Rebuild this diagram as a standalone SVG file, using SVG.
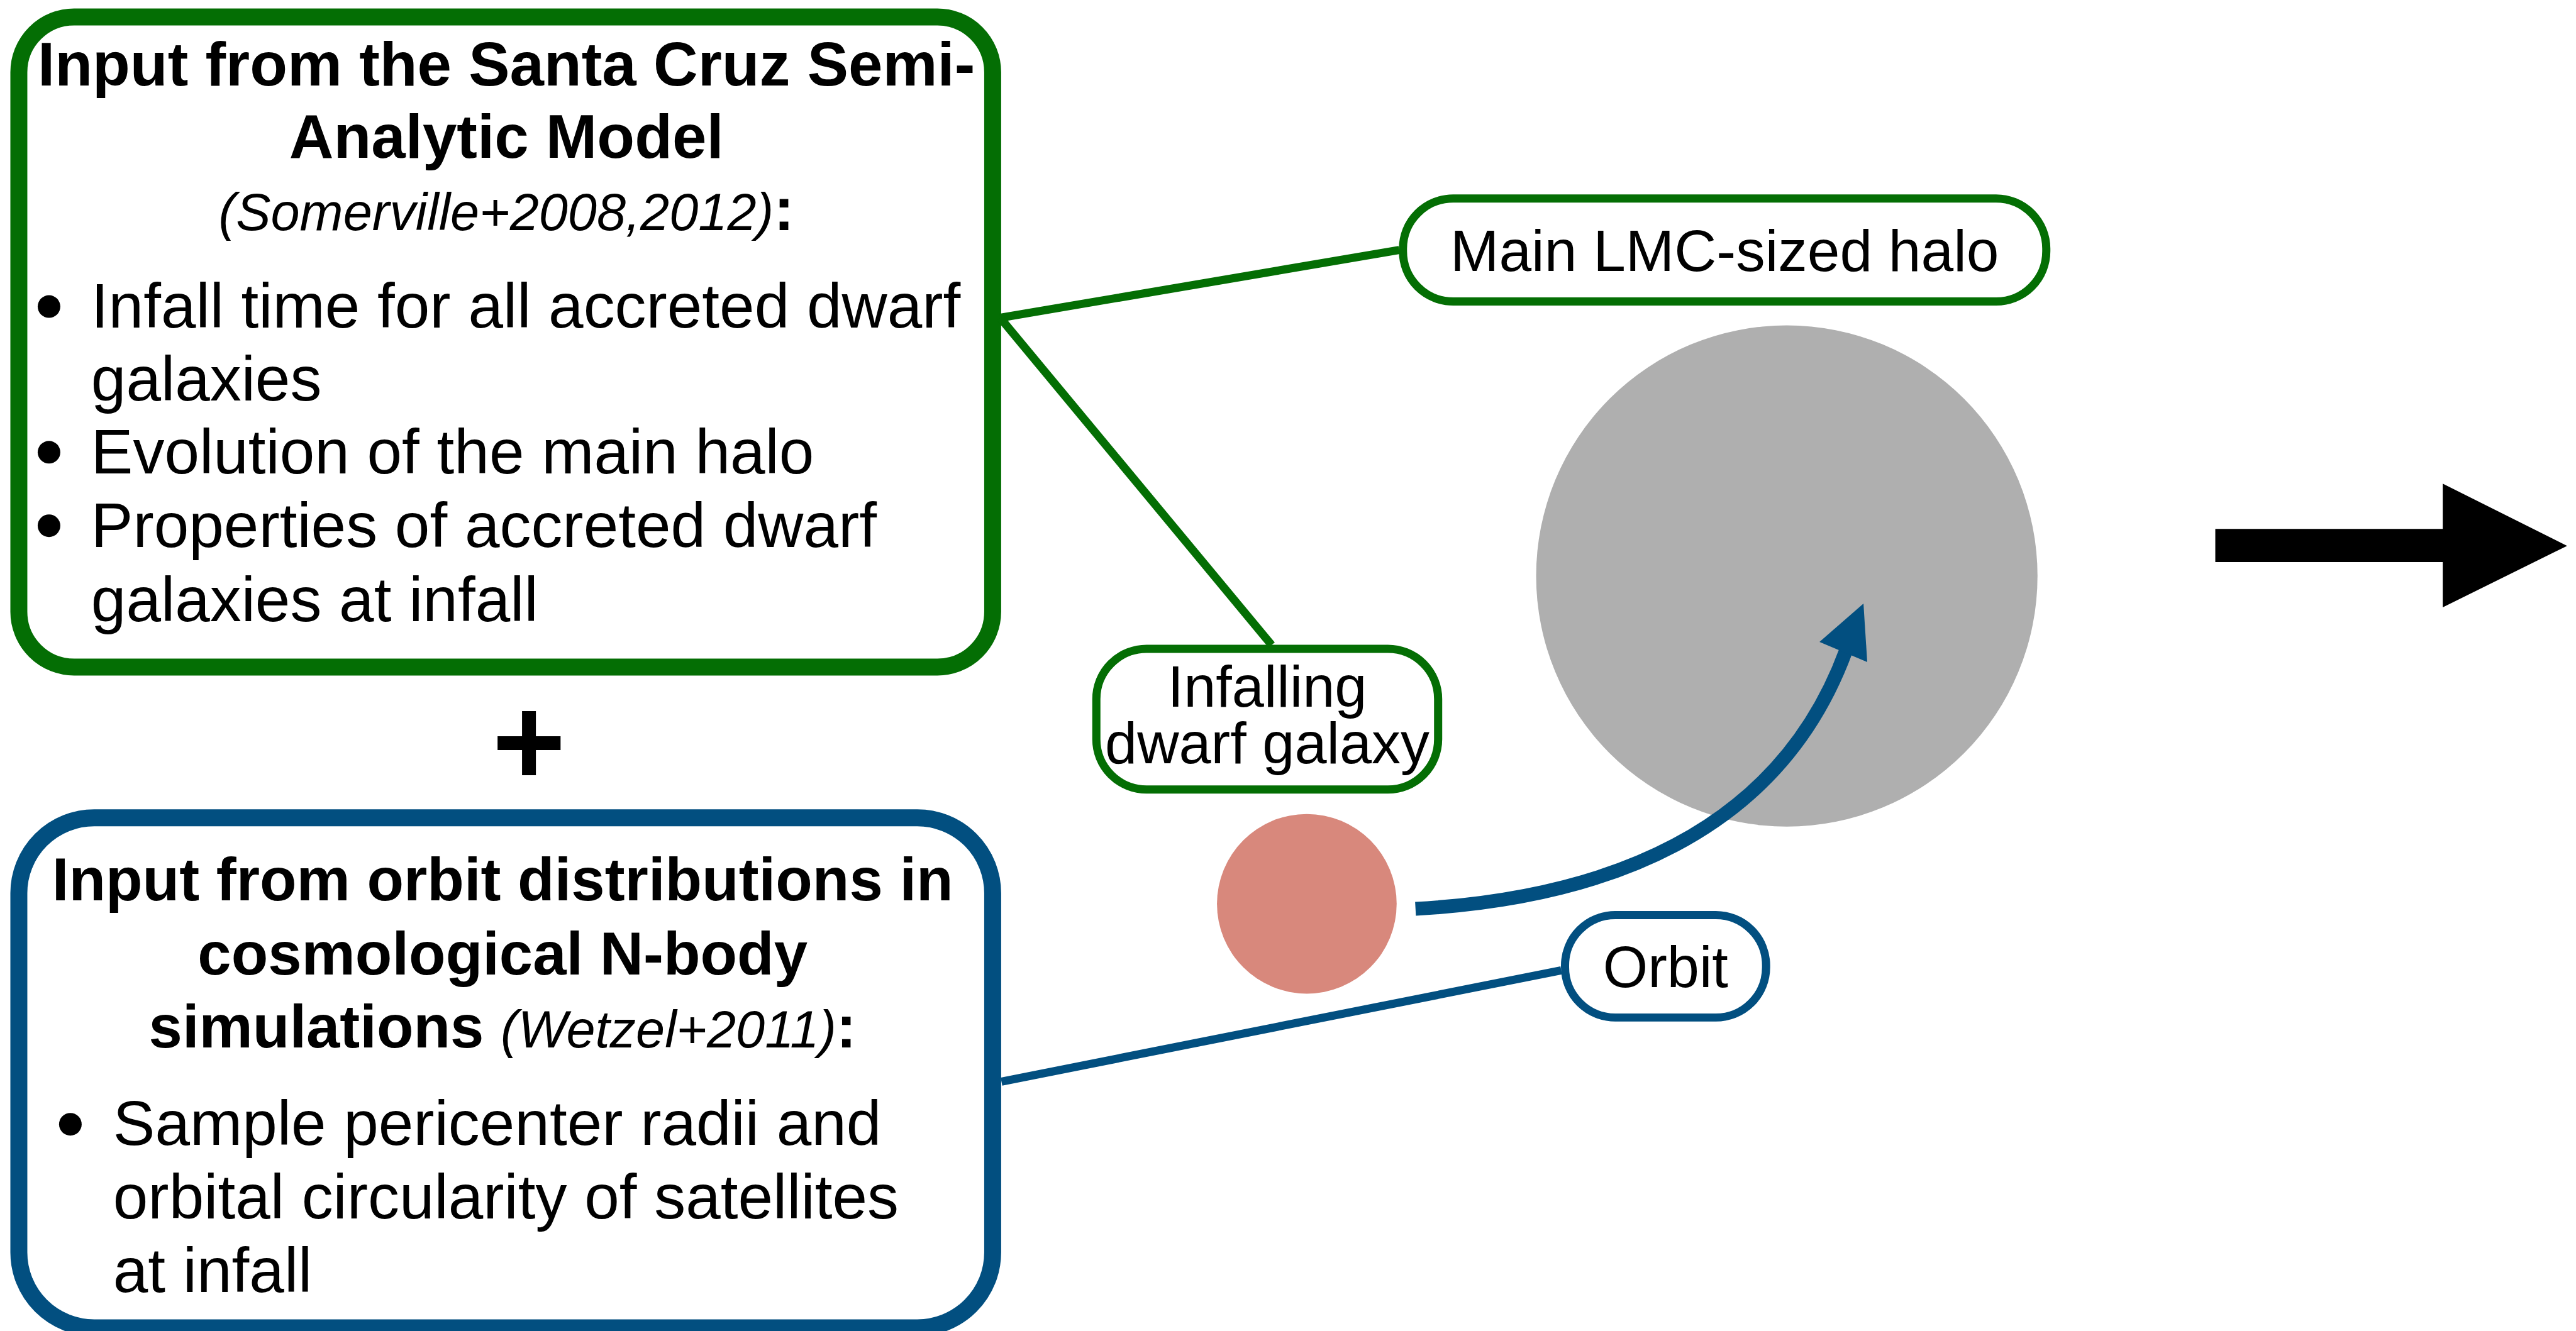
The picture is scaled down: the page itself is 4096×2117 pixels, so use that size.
<svg xmlns="http://www.w3.org/2000/svg" width="4096" height="2117" viewBox="0 0 4096 2117">
<style>
.g{fill:#fff;stroke:#046E04;}
.b{fill:#fff;stroke:#024F80;}
.t{font-family:"Liberation Sans",Arial,Helvetica,sans-serif;fill:#000;}
.bold{font-weight:bold;}
.it{font-style:italic;font-weight:normal;}
.lg{stroke:#046E04;stroke-width:13;fill:none;}
.lb{stroke:#024F80;stroke-width:13;fill:none;}
</style>
<rect width="4096" height="2117" fill="#fff"/>
<g transform="scale(0.999)">
<g id="santa-cruz">
<rect class="g" x="30" y="27" width="1550" height="1035" rx="88" ry="88" stroke-width="27"/>
<text class="t bold" x="806" y="136" font-size="98" text-anchor="middle">Input from the Santa Cruz Semi-</text>
<text class="t bold" x="806" y="251" font-size="98" text-anchor="middle">Analytic Model</text>
<text class="t" x="806" y="366" font-size="83" text-anchor="middle"><tspan class="it">(Somerville+2008,2012)</tspan><tspan class="bold" font-size="98">:</tspan></text>
<circle cx="78" cy="488" r="18"/>
<circle cx="78" cy="720" r="18"/>
<circle cx="78" cy="837" r="18"/>
<text class="t" x="145" y="522" font-size="100">Infall time for all accreted dwarf</text>
<text class="t" x="145" y="638" font-size="100">galaxies</text>
<text class="t" x="145" y="754" font-size="100">Evolution of the main halo</text>
<text class="t" x="145" y="871" font-size="100">Properties of accreted dwarf</text>
<text class="t" x="145" y="989" font-size="100">galaxies at infall</text>
</g>
<g id="plus">
<text class="t bold" x="842" y="1250" font-size="200" text-anchor="middle">+</text>
</g>
<g id="orbit-input">
<rect class="b" x="30" y="1302" width="1550" height="812" rx="120" ry="120" stroke-width="27"/>
<text class="t bold" x="800" y="1433" font-size="96" text-anchor="middle">Input from orbit distributions in</text>
<text class="t bold" x="800" y="1552" font-size="96" text-anchor="middle">cosmological N-body</text>
<text class="t bold" x="800" y="1668" font-size="96" text-anchor="middle">simulations <tspan class="it" font-size="83">(Wetzel+2011)</tspan>:</text>
<circle cx="112" cy="1790" r="18"/>
<text class="t" x="180" y="1823" font-size="100">Sample pericenter radii and</text>
<text class="t" x="180" y="1940" font-size="100">orbital circularity of satellites</text>
<text class="t" x="180" y="2057" font-size="100">at infall</text>
</g>
<g id="main-halo-label">
<rect class="g" x="2233" y="316" width="1024" height="164" rx="80" ry="80" stroke-width="13"/>
<text class="t" x="2745" y="431" font-size="93" text-anchor="middle">Main LMC-sized halo</text>
</g>
<g id="main-halo">
<circle cx="2844" cy="917" r="399" fill="#AFAFAF"/>
</g>
<g id="infalling-label">
<rect class="g" x="1745" y="1033" width="544" height="224" rx="80" ry="80" stroke-width="13"/>
<text class="t" x="2017" y="1125" font-size="92" text-anchor="middle">Infalling</text>
<text class="t" x="2017" y="1215" font-size="92" text-anchor="middle">dwarf galaxy</text>
</g>
<g id="dwarf">
<circle cx="2080" cy="1439" r="143" fill="#D8887C"/>
</g>
<g id="orbit-label">
<rect class="b" x="2491" y="1457" width="320" height="163" rx="80" ry="80" stroke-width="13"/>
<text class="t" x="2651" y="1572" font-size="92" text-anchor="middle">Orbit</text>
</g>
<g id="connectors">
<line class="lg" x1="1592" y1="506" x2="2227" y2="398"/>
<line class="lg" x1="1592" y1="506" x2="2024" y2="1027"/>
<line class="lb" x1="1594" y1="1722" x2="2485" y2="1545"/>
<path d="M2253 1447 C2550 1430 2830 1330 2938 1036" fill="none" stroke="#024F80" stroke-width="22"/>
<polygon points="2966,961 2896,1022 2972,1054" fill="#024F80"/>
<polygon points="3526,842 3888,842 3888,770 4086,869 3888,967 3888,895 3526,895" fill="#000"/>
</g>
</g>
</svg>
